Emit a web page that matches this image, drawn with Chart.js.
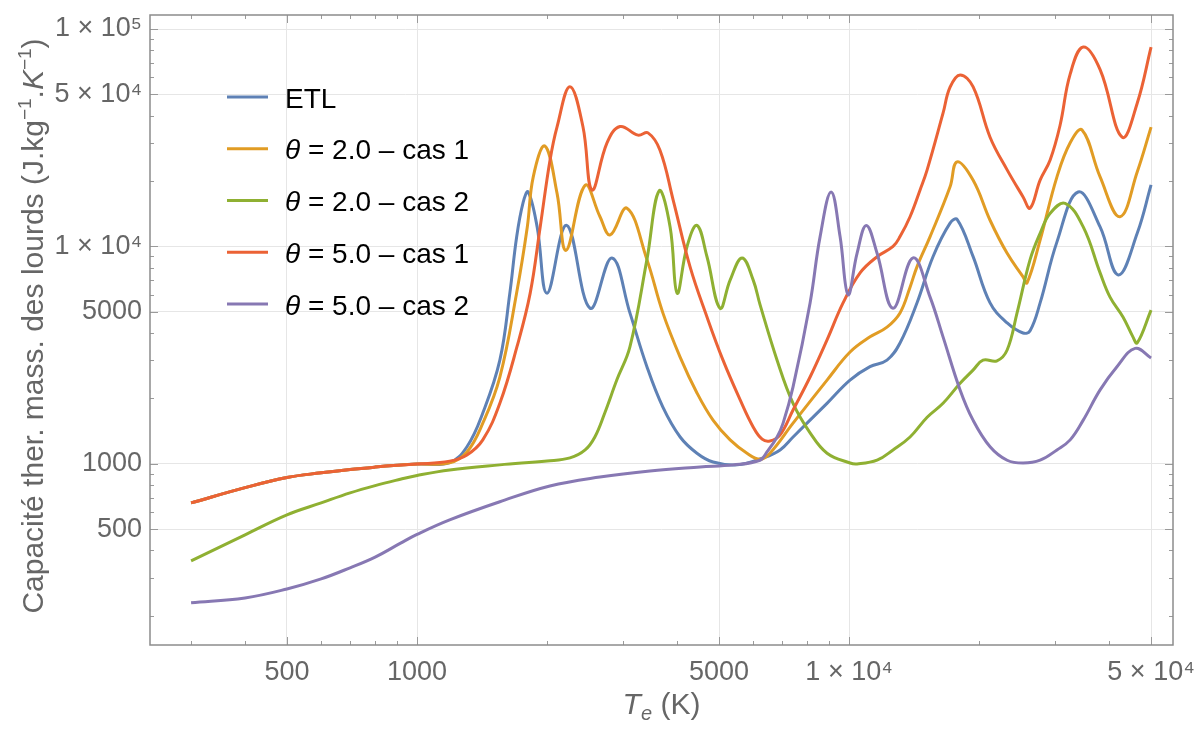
<!DOCTYPE html>
<html><head><meta charset="utf-8">
<script src="https://cdn.jsdelivr.net/npm/chart.js@4.4.0/dist/chart.umd.min.js"></script>
<style>html,body{margin:0;padding:0;background:#fff}#wrap{width:1198px;height:729px;position:relative}</style>
</head><body><div id="wrap"><canvas id="c"></canvas></div>
<script>
// ---- data (T in K, Cp in J/kg/K) ----
const etlT  = [300,400,500,600,700,800,900,1000,1190,1305,1420,1555,1640,1700,1760,1808,1897,2000,2220,2515,2825,3110,3405,3705,4065,4445,4845,5510,6320,6925,7420,8890,10050,11180,12240,13120,14360,15640,17130,17800,19360,21200,23220,25280,26240,27680,30280,33900,38110,41980,46440,50000];
const etlCp = [662,778,866,910,943,967,985,998,1015,1200,1715,3000,6100,11000,15900,17800,12300,6100,12500,5200,8860,4950,2800,1830,1330,1120,1020,990,1065,1160,1330,1900,2430,2800,3000,3600,5500,8970,12800,13300,9000,5500,4450,4000,4100,5500,10500,17800,12300,7400,11500,19200];

const c21T  = [300,400,500,600,700,800,900,1000,1190,1305,1420,1555,1700,1800,1858,1977,2110,2213,2449,2652,2800,3062,3406,3707,4064,4446,4843,5305,5804,6222,6561,7419,8893,10053,11183,12240,13120,13840,14360,15400,17130,17780,19360,21200,23220,25280,25820,27680,30280,32490,34620,38110,42360,46440,50000];
const c21Cp = [662,778,866,910,943,967,985,998,1012,1135,1540,2510,6100,12300,20900,29000,17500,9600,19100,13700,11300,15000,8700,4950,3100,2120,1590,1290,1120,1050,1120,1540,2430,3270,3840,4260,4950,6500,8060,11100,18800,24500,20200,13200,9300,7250,6800,10700,20900,30000,34300,20900,13700,22000,35400];

const c22T  = [300,400,500,600,700,800,915,1000,1190,1555,2000,2260,2450,2580,2720,2900,3110,3405,3634,3853,4000,4217,4446,4690,5027,5305,5655,6000,6222,6814,7419,8124,8893,10053,10435,11610,12640,13840,15160,16500,18070,19360,20420,22000,23220,24480,26240,27680,29200,31620,34830,38110,40180,43050,45390,46440,50000];
const c22Cp = [358,472,583,662,736,795,850,885,938,990,1032,1066,1160,1330,1715,2430,3450,8700,18000,12300,6100,10000,12500,8970,5200,7000,8860,7000,5400,3000,1900,1390,1120,1010,1000,1040,1160,1330,1640,1900,2350,2700,3000,2980,3340,4950,8700,11500,14200,15800,12300,7560,5850,4740,3840,3600,5100];

const c51T  = [300,400,500,600,700,800,900,1000,1190,1305,1420,1555,1703,1828,1928,2032,2110,2259,2421,2541,2754,2950,3248,3425,3651,3915,4286,4690,5108,5597,5998,6291,6561,6924,7419,8124,8893,9685,10604,11610,12640,13120,13840,14600,15160,16500,17130,18070,19360,21200,23220,25280,26240,27680,29200,30780,32490,34830,38110,42850,46440,50000];
const c51Cp = [662,778,866,910,943,967,985,998,1030,1100,1290,1900,3450,6100,12300,25000,35600,54300,35600,18200,30000,35600,32500,33300,27700,16400,8060,4740,3000,1970,1480,1300,1275,1360,1770,2510,3720,5500,7560,8970,10000,11100,13700,18200,22500,41000,54000,61500,54300,31800,22500,16900,15000,20200,25000,36000,62000,82600,65000,31800,45600,82600];

const c52T  = [300,400,500,600,700,800,914,1000,1190,1555,2030,2650,3460,4520,5390,6222,6456,6814,7036,7419,8124,8570,9087,9532,9947,10435,10962,11610,12640,14060,15400,16500,18070,19360,21200,23220,25280,27680,30280,32490,34830,38110,41690,45920,50000];
const c52Cp = [230,242,266,296,333,373,431,474,553,670,792,871,929,968,990,1040,1135,1330,1540,2260,5500,11100,17800,11100,6000,9300,12500,9300,5200,8860,5850,3840,2190,1590,1200,1040,1010,1040,1160,1290,1590,2190,2800,3400,3070];

const seriesLabels = ['ETL','θ = 2.0 – cas 1','θ = 2.0 – cas 2','θ = 5.0 – cas 1','θ = 5.0 – cas 2'];
const seriesColors = ['#5E81B5','#E19C24','#8FB032','#EB6235','#8778B3'];

const xMajorTicks = [500,1000,5000,10000,50000];
const xTickLabels = ['500','1000','5000','1 × 10⁴','5 × 10⁴'];
const xMinorTicks = [300,400,600,700,800,900,2000,3000,4000,6000,7000,8000,9000,20000,30000,40000];
const yMajorTicks = [500,1000,5000,10000,50000,100000];
const yTickLabels = ['500','1000','5000','1 × 10⁴','5 × 10⁴','1 × 10⁵'];
const yMinorTicks = [200,300,400,600,700,800,900,2000,3000,4000,6000,7000,8000,9000,20000,30000,40000,60000,70000,80000,90000];

// ---- chart ----
const FONT = '"Liberation Sans", Arial, sans-serif';
Chart.defaults.font.family = FONT;

const seriesT  = [etlT, c21T, c22T, c51T, c52T];
const seriesCp = [etlCp, c21Cp, c22Cp, c51Cp, c52Cp];

const datasets = seriesLabels.map((lab, i) => ({
  label: lab,
  data: seriesT[i].map((t, k) => ({x: t, y: seriesCp[i][k]})),
  borderColor: seriesColors[i],
  backgroundColor: seriesColors[i],
  borderWidth: 3,
  pointRadius: 0,
  fill: false,
  tension: 0.4,
  order: seriesLabels.length - i
}));

function drawRich(ctx, parts, cx, baseY) {
  let total = 0;
  for (const p of parts) { ctx.font = p.font; p.w = ctx.measureText(p.text).width; total += p.w; }
  let x = cx - total / 2;
  for (const p of parts) { ctx.font = p.font; ctx.fillText(p.text, x, baseY + (p.dy || 0)); x += p.w; }
}

const decorPlugin = {
  id: 'decor',
  afterDraw(chart) {
    const {ctx, chartArea: a, scales} = chart;
    const xs = scales.x, ys = scales.y;
    ctx.save();
    ctx.strokeStyle = '#9a9a9a';
    ctx.lineWidth = 1;
    ctx.beginPath();
    const xt = (vals, len) => vals.forEach(v => {
      const p = Math.round(xs.getPixelForValue(v)) + 0.5;
      ctx.moveTo(p, a.bottom); ctx.lineTo(p, a.bottom - len);
      ctx.moveTo(p, a.top); ctx.lineTo(p, a.top + len);
    });
    const yt = (vals, len) => vals.forEach(v => {
      const p = Math.round(ys.getPixelForValue(v)) + 0.5;
      ctx.moveTo(a.left, p); ctx.lineTo(a.left + len, p);
      ctx.moveTo(a.right, p); ctx.lineTo(a.right - len, p);
    });
    xt(xMajorTicks, 8); xt(xMinorTicks, 4);
    yt(yMajorTicks, 8); yt(yMinorTicks, 4);
    ctx.stroke();
    ctx.strokeStyle = '#8c8c8c';
    ctx.lineWidth = 1.5;
    ctx.strokeRect(a.left, a.top, a.right - a.left, a.bottom - a.top);

    ctx.textBaseline = 'alphabetic';
    ctx.textAlign = 'left';
    chart.data.datasets.forEach((ds, i) => {
      const ly = a.top + 82 + i * 51.75;
      ctx.strokeStyle = ds.borderColor;
      ctx.lineWidth = 3;
      ctx.beginPath(); ctx.moveTo(a.left + 77, ly); ctx.lineTo(a.left + 118, ly); ctx.stroke();
      ctx.fillStyle = '#000';
      let tx = a.left + 135;
      const by = ly + 10.5;
      let txt = ds.label;
      if (txt.startsWith('θ')) {
        ctx.font = 'italic 28px ' + FONT;
        ctx.fillText('θ', tx, by);
        tx += ctx.measureText('θ').width;
        txt = txt.slice(1);
      }
      ctx.font = '28px ' + FONT;
      ctx.fillText(txt, tx, by);
    });

    ctx.fillStyle = '#666';
    ctx.textAlign = 'left';
    const cxX = (a.left + a.right) / 2;
    drawRich(ctx, [
      {text: 'T', font: 'italic 30px ' + FONT},
      {text: 'e', font: 'italic 20px ' + FONT, dy: 6},
      {text: ' (K)', font: '30px ' + FONT}
    ], cxX, 714);

    ctx.save();
    ctx.translate(43, (a.top + a.bottom) / 2 - 4);
    ctx.rotate(-Math.PI / 2);
    drawRich(ctx, [
      {text: 'Capacité ther. mass. des lourds (J.kg', font: '30px ' + FONT},
      {text: '−1', font: '19px ' + FONT, dy: -12},
      {text: '.', font: '30px ' + FONT},
      {text: 'K', font: 'italic 30px ' + FONT},
      {text: '−1', font: '19px ' + FONT, dy: -12},
      {text: ')', font: '30px ' + FONT}
    ], 0, 0);
    ctx.restore();
    ctx.restore();
  }
};

const allX = [...xMinorTicks, ...xMajorTicks].sort((p, q) => p - q);
const allY = [...yMinorTicks, ...yMajorTicks].sort((p, q) => p - q);

new Chart(document.getElementById('c'), {
  type: 'line',
  data: {datasets},
  options: {
    responsive: true,
    maintainAspectRatio: false,
    animation: false,
    layout: {padding: {top: 15, right: 25, bottom: 0, left: 0}},
    plugins: {legend: {display: false}, tooltip: {enabled: false}},
    scales: {
      x: {
        type: 'logarithmic', min: 241, max: 56200,
        afterBuildTicks: s => { s.ticks = allX.map(v => ({value: v})); },
        afterFit: s => { s.height = 84; s.paddingLeft = 0; s.paddingRight = 0; s.paddingTop = 0; s.paddingBottom = 0; },
        ticks: {
          autoSkip: false, maxRotation: 0, minRotation: 0, padding: 11,
          color: '#666', font: {size: 27},
          callback: v => { const i = xMajorTicks.indexOf(v); return i >= 0 ? xTickLabels[i] : ''; }
        },
        grid: {
          drawTicks: false, lineWidth: 1,
          color: c => (c.tick && xMajorTicks.includes(c.tick.value)) ? '#e6e6e6' : 'rgba(0,0,0,0)'
        },
        border: {display: false}
      },
      y: {
        type: 'logarithmic', min: 147, max: 116000,
        afterBuildTicks: s => { s.ticks = allY.map(v => ({value: v})); },
        afterFit: s => { s.width = 150; s.paddingLeft = 0; s.paddingRight = 0; s.paddingTop = 0; s.paddingBottom = 0; },
        ticks: {
          autoSkip: false, padding: 8,
          color: '#666', font: {size: 27},
          callback: v => { const i = yMajorTicks.indexOf(v); return i >= 0 ? yTickLabels[i] : ''; }
        },
        grid: {
          drawTicks: false, lineWidth: 1,
          color: c => (c.tick && yMajorTicks.includes(c.tick.value)) ? '#e6e6e6' : 'rgba(0,0,0,0)'
        },
        border: {display: false}
      }
    }
  },
  plugins: [decorPlugin]
});
</script>
</body></html>
